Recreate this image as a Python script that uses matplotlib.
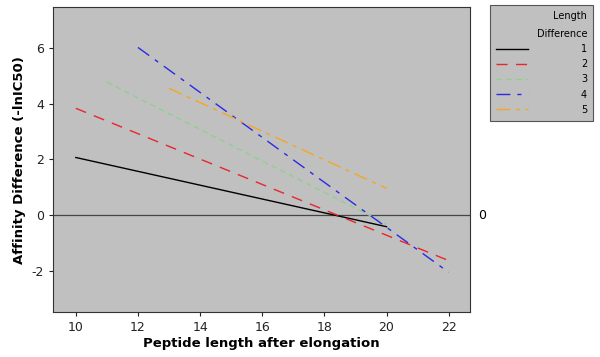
import matplotlib.pyplot as plt
import matplotlib.transforms as mtransforms

plt.rcParams['axes.unicode_minus'] = False

# length difference -> (start, end) of each fitted line
labels = ['1', '2', '3', '4', '5']
x_start = [10, 10, 11, 12, 13]
x_end = [20, 22, 20, 22, 20]
y_start = [2.07, 3.84, 4.78, 6.03, 4.56]
y_end = [-0.42, -1.64, -0.32, -2.06, 0.96]

colors = ['black', '#e8262b', '#8fd08f', '#2a2ae6', '#f5a623']
styles = ['-', (0, (8, 6)), (0, (4, 3)), (0, (10, 5, 3, 5)), (0, (10, 4, 3, 4))]

fig = plt.figure(figsize=(6, 3.57), dpi=100)
ax = fig.add_axes([0.088, 0.126, 0.695, 0.854])
ax.set_facecolor('#c0c0c0')

for i in range(len(labels)):
    ax.plot([x_start[i], x_end[i]], [y_start[i], y_end[i]], color=colors[i],
            linestyle=styles[i], linewidth=1, label=labels[i])

ax.axhline(0, color='#444444', linewidth=0.9, zorder=0)
trans = mtransforms.blended_transform_factory(ax.transAxes, ax.transData)
ax.text(1.02, 0, '0', transform=trans, va='center', ha='left', fontsize=9)

ax.set_xlim(9.26, 22.68)
ax.set_ylim(-3.49, 7.48)
ax.set_xticks(range(10, 23, 2))
ax.set_yticks([-2, 0, 2, 4, 6])
ax.tick_params(labelsize=9, length=3, colors='#222222')
for s in ax.spines.values():
    s.set_color('#333333')
    s.set_linewidth(0.8)

ax.set_xlabel('Peptide length after elongation', fontsize=9.5, fontweight='bold', labelpad=2)
ax.set_ylabel('Affinity Difference (-lnIC50)', fontsize=9.5, fontweight='bold', labelpad=4)

leg = ax.legend(title='Length\nDifference', loc='upper left',
                bbox_to_anchor=(490 / 600, 1 - 5 / 357), bbox_transform=fig.transFigure,
                borderaxespad=0, fontsize=7, title_fontsize=7, alignment='right',
                handlelength=3.3, handletextpad=5.4, labelspacing=0.52, borderpad=0.65,
                fancybox=False, framealpha=1, facecolor='#c0c0c0', edgecolor='#555555')
leg.get_frame().set_linewidth(0.8)
leg.get_title().set_multialignment('right')
leg.get_title().set_linespacing(2.0)

fig.savefig('out.png')
